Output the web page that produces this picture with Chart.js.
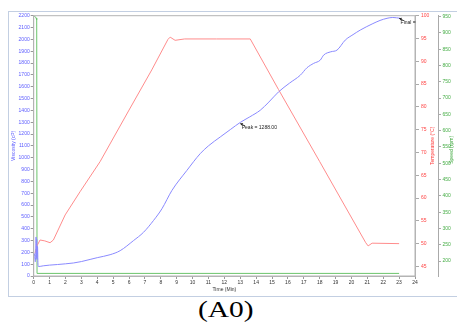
<!DOCTYPE html>
<html>
<head>
<meta charset="utf-8">
<script src="https://cdn.jsdelivr.net/npm/chart.js@4/dist/chart.umd.min.js"></script>
<style>
  html,body{margin:0;padding:0;background:#fff;width:457px;height:326px;overflow:hidden;}
  #frame{position:absolute;left:8px;top:11px;width:460px;height:284px;border:1px solid #c3cfe2;}
  #c{position:absolute;left:0;top:0;}
  #cap{position:absolute;left:0;top:297px;width:452px;text-align:center;font-family:"Liberation Serif","Times New Roman",serif;font-size:23px;color:#000;}
  #cap span{display:inline-block;transform:scaleX(1.28);}
</style>
</head>
<body>
<div id="frame"></div>
<canvas id="c" width="457" height="296"></canvas>
<div id="cap"><span>(A0)</span></div>
<script>
// ---- data ----
const viscTime = [0.05,0.08,0.10,0.13,0.15,0.17,0.19,0.21,0.24,0.27,0.30,0.6,1.0,1.5,2.0,2.5,3.0,3.55,4.0,4.81,5.44,6.28,6.91,7.54,8.07,8.70,9.64,10.48,11.0,11.74,12.4,13.0,13.6,14.26,14.8,15.41,16.1,16.78,17.2,17.62,18.04,18.25,18.7,19.09,19.61,20.1,20.56,21.3,21.8,22.24,22.6,23.08];
const viscVal  = [190,140,120,200,330,150,310,140,250,100,80,86,92,97,103,110,122,140,155,180,214,299,369,469,568,723,892,1034,1100,1175,1240,1298,1345,1401,1470,1556,1630,1697,1760,1797,1825,1867,1895,1909,1994,2040,2079,2130,2160,2178,2185,2178];

const tempTime = [0.08,0.19,0.4,0.7,1.03,1.24,1.98,2.92,4.18,6.0,7.43,8.45,8.59,8.9,9.5,11.5,13.63,15.41,18.0,20.9,21.05,21.3,23.0];
const tempVal  = [47.9,49.4,50.8,50.6,50.2,50.8,56.3,61.4,68.0,79.3,88.1,94.8,95.3,94.6,94.9,94.9,94.9,83.8,68.0,50.2,49.5,50.1,50.0];

const speedTime = [0,0.1,0.15,0.19,0.21,23.0];
const speedVal  = [953,950,946,940,162,162];

const timeTickLabels = Array.from({length:25},(_,i)=>i);
const viscTickLabels = Array.from({length:23},(_,i)=>i*100);
const tempTickLabels = [45,50,55,60,65,70,75,80,85,90,95,100];
const speedTickLabels = [200,250,300,350,400,450,500,550,600,650,700,750,800,850,900,950];

const peak = {t:13.0, v:1288, label:'Peak = 1288.00'};
const fin  = {t:23.0, v:2178, label:'Final ='};

const pts = (xs,ys)=>xs.map((x,i)=>({x:x,y:ys[i]}));

const tickFont = {family:'"Liberation Sans", Arial, sans-serif', size:5};
const BLUE='#8a8aff', RED='#ff8c8c', GREEN='#6cc46c';
const plain = v => String(v);

const extras = {
  id:'extras',
  afterDraw(chart){
    const {ctx, chartArea:a, scales} = chart;
    ctx.save();
    ctx.strokeStyle='#b4b4b4'; ctx.lineWidth=1;
    ctx.strokeRect(a.left, a.top, a.right-a.left, a.bottom-a.top);
    // right-hand titles (reading bottom to top)
    ctx.font = '5px "Liberation Sans", Arial, sans-serif';
    ctx.textAlign='center'; ctx.textBaseline='middle';
    const mid=(a.top+a.bottom)/2;
    ctx.fillStyle='#ff3a3a';
    ctx.save(); ctx.translate(433, mid); ctx.rotate(-Math.PI/2); ctx.fillText('Temperature (°C)',0,0); ctx.restore();
    ctx.fillStyle='#3aa53a';
    ctx.save(); ctx.translate(452, mid+4); ctx.rotate(-Math.PI/2); ctx.fillText('Speed (rpm)',0,0); ctx.restore();
    // annotations
    const x=scales.x, y=scales.y;
    function mark(t,v,label){
      const px=x.getPixelForValue(t), py=y.getPixelForValue(v);
      ctx.strokeStyle='#222'; ctx.fillStyle='#222'; ctx.lineWidth=0.8;
      ctx.beginPath(); ctx.moveTo(px+5,py+2.5); ctx.lineTo(px,py); ctx.stroke();
      ctx.beginPath(); ctx.moveTo(px,py); ctx.lineTo(px+3,py-0.5); ctx.lineTo(px+1.5,py+2); ctx.closePath(); ctx.fill();
      ctx.font='5px "Liberation Sans", Arial, sans-serif';
      ctx.textAlign='left'; ctx.textBaseline='middle';
      ctx.fillText(label, px+1.5, py+4.5);
    }
    mark(peak.t, peak.v, peak.label);
    mark(fin.t, fin.v, fin.label);
    ctx.restore();
  }
};

new Chart(document.getElementById('c'), {
  type:'line',
  data:{datasets:[
    {label:'Viscosity', data:pts(viscTime,viscVal), yAxisID:'y', borderColor:BLUE, borderWidth:1, pointRadius:0, cubicInterpolationMode:'monotone'},
    {label:'Temperature', data:pts(tempTime,tempVal), yAxisID:'yT', borderColor:RED, borderWidth:1, pointRadius:0, tension:0},
    {label:'Speed', data:pts(speedTime,speedVal), yAxisID:'yS', borderColor:GREEN, borderWidth:1, pointRadius:0, tension:0}
  ]},
  options:{
    responsive:false, animation:false, devicePixelRatio:1,
    layout:{padding:{top:15.7,left:0,right:0,bottom:0}},
    plugins:{legend:{display:false}, tooltip:{enabled:false}},
    scales:{
      x:{type:'linear', min:0, max:24,
        afterBuildTicks:s=>{s.ticks=timeTickLabels.map(v=>({value:v}));},
        afterFit:s=>{s.height=20;},
        ticks:{font:tickFont, color:'#333', autoSkip:false, maxRotation:0, padding:0.5, callback:plain},
        grid:{drawOnChartArea:false, tickLength:3, color:'#999'},
        border:{color:'#b4b4b4'},
        title:{display:true, text:'Time (Min)', font:tickFont, color:'#333', padding:{top:0,bottom:3}}
      },
      y:{type:'linear', position:'left', min:0, max:2200,
        afterBuildTicks:s=>{s.ticks=viscTickLabels.map(v=>({value:v}));},
        afterFit:s=>{s.width=33.7;},
        ticks:{font:tickFont, color:'#5a5aff', padding:1, callback:plain},
        grid:{drawOnChartArea:false, tickLength:3, color:'#999'},
        border:{color:'#b4b4b4'},
        title:{display:true, text:'Viscosity (cP)', font:tickFont, color:'#5a5aff', padding:{top:11,bottom:0}}
      },
      yT:{type:'linear', position:'right', min:42.9, max:100,
        afterBuildTicks:s=>{s.ticks=tempTickLabels.map(v=>({value:v}));},
        afterFit:s=>{s.width=23;},
        ticks:{font:tickFont, color:'#ff4646', padding:2, callback:plain},
        grid:{drawOnChartArea:false, tickLength:4, color:'#aaa'},
        border:{color:'#b4b4b4'}
      },
      yS:{type:'linear', position:'right', min:154, max:953,
        afterBuildTicks:s=>{s.ticks=speedTickLabels.map(v=>({value:v}));},
        afterFit:s=>{s.width=19;},
        ticks:{font:tickFont, color:'#46ad46', padding:1.5, callback:plain},
        grid:{drawOnChartArea:false, tickLength:3, color:'#aaa'},
        border:{color:'#aaa'}
      }
    }
  },
  plugins:[extras]
});
</script>
</body>
</html>
